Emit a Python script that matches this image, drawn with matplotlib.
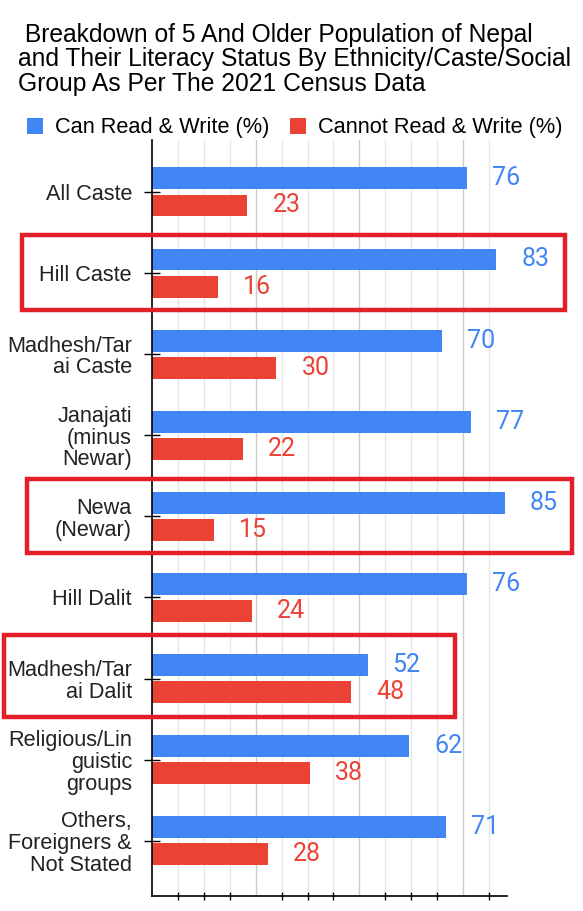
import numpy as np
import matplotlib
matplotlib.use('Agg')
import matplotlib.pyplot as plt
from matplotlib.patches import Rectangle

# data
groups = ['All Caste', 'Hill Caste', 'Madhesh/Tar\nai Caste', 'Janajati\n(minus\nNewar)',
          'Newa\n(Newar)', 'Hill Dalit', 'Madhesh/Tar\nai Dalit', 'Religious/Lin\nguistic\ngroups',
          'Others,\nForeigners &\nNot Stated']
can_read = [76, 83, 70, 77, 85, 76, 52, 62, 71]
cannot_read = [23, 16, 30, 22, 15, 24, 48, 38, 28]
series_names = ['Can Read & Write (%)', 'Cannot Read & Write (%)']
title_lines = [' Breakdown of 5 And Older Population of Nepal',
               'and Their Literacy Status By Ethnicity/Caste/Social',
               'Group As Per The 2021 Census Data']

BLUE = '#4285F4'
RED = '#EA4335'
W, H = 583, 911

fig = plt.figure(figsize=(W / 100, H / 100), dpi=100)
ax = fig.add_axes([152 / W, 1 - 896 / H, (507 - 152) / W, (896 - 140) / H])

y = np.arange(len(groups))
bh = 0.27
off = 0.167
b1 = ax.barh(y - off, can_read, height=bh, color=BLUE, label=series_names[0], zorder=3)
b2 = ax.barh(y + off, cannot_read, height=bh, color=RED, label=series_names[1], zorder=3)
ax.bar_label(b1, padding=18, fontsize=18, color=BLUE, family='Roboto')
ax.bar_label(b2, padding=18, fontsize=18, color=RED, family='Roboto')

ax.set_xlim(0, 85.6)
ax.set_ylim(len(groups) - 1 + 0.68, -0.64)

# gridlines: major every 25, minor every 6.25
ax.set_xticks([25, 50, 75])
ax.set_xticks([6.25, 12.5, 18.75, 31.25, 37.5, 43.75, 56.25, 62.5, 68.75, 81.25], minor=True)
ax.grid(axis='x', which='major', color='#cccccc', lw=1, zorder=0)
ax.grid(axis='x', which='minor', color='#e6e6e6', lw=1, zorder=0)
ax.tick_params(axis='x', which='major', length=0, labelbottom=False)
ax.tick_params(axis='x', which='minor', direction='inout', length=6, width=1, color='black', labelbottom=False)

ax.set_yticks(y)
ax.set_yticklabels(groups, fontsize=15.6, family='Liberation Sans', color='#222222', linespacing=1.05)
ax.tick_params(axis='y', direction='inout', length=12, width=1, pad=8.4)

for s in ['top', 'right']:
    ax.spines[s].set_visible(False)
for s in ['left', 'bottom']:
    ax.spines[s].set_color('black')
    ax.spines[s].set_linewidth(1.2)
    ax.spines[s].set_zorder(4)

# title lines
for k, line in enumerate(title_lines):
    fig.text(18 / W, 1 - (41.7 + 24.7 * k) / H, line, fontsize=17.7, family='Liberation Sans',
             ha='left', va='baseline', color='black')

fig.legend(handles=[b1, b2], loc='center left', bbox_to_anchor=(27 / W, 1 - 128 / H),
           ncol=2, frameon=False, prop={'family': 'Liberation Sans', 'size': 15.7},
           handlelength=0.73, handleheight=0.73, handletextpad=0.55, columnspacing=0.95,
           borderpad=0, borderaxespad=0)

# red highlight boxes (pixel boxes around highlighted groups)
boxes = [(22, 235, 565, 310), (27, 479, 572, 553), (4, 635, 455, 717)]
for x0, y0, x1, y1 in boxes:
    fig.patches.append(Rectangle((x0 / W, 1 - y1 / H), (x1 - x0) / W, (y1 - y0) / H,
                                 transform=fig.transFigure, fill=False,
                                 edgecolor='#E3202A', lw=3.2, zorder=10))

fig.savefig('out.png', dpi=100)
